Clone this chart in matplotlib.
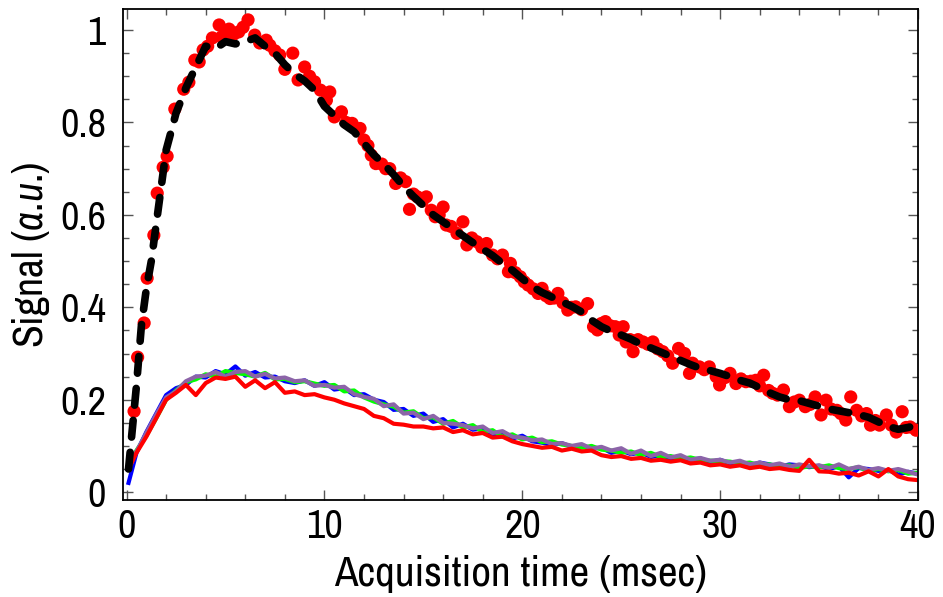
import matplotlib
matplotlib.use('Agg')
import matplotlib.pyplot as plt
from matplotlib.ticker import MultipleLocator, FuncFormatter

plt.rcParams['font.family'] = ['Archivo Narrow', 'Liberation Sans', 'DejaVu Sans']
plt.rcParams['mathtext.fontset'] = 'custom'
plt.rcParams['mathtext.rm'] = 'Archivo Narrow'
plt.rcParams['mathtext.it'] = 'Archivo Narrow:italic'

# measured points (red dots)
t_dots = [0.38, 0.56, 0.89, 1.04, 1.38, 1.55, 1.85, 2.05, 2.44, 2.89, 3.15, 3.45, 3.67, 3.87, 4.1,
          4.34, 4.68, 4.8, 5.0, 5.18, 5.42, 5.67, 5.89, 6.14, 6.48, 6.73, 7.06, 7.24, 7.5, 7.74,
          8.0, 8.4, 8.67, 9.0, 9.25, 9.5, 9.8, 10.1, 10.27, 10.5, 10.86, 11.1, 11.4, 11.8, 12.0,
          12.2, 12.37, 12.6, 12.9, 13.1, 13.3, 13.6, 13.85, 14.1, 14.3, 14.5, 14.7, 14.95, 15.15, 15.4,
          15.6, 15.8, 16.0, 16.16, 16.4, 16.7, 17.0, 17.2, 17.45, 17.7, 17.95, 18.2, 18.5, 18.75, 19.0,
          19.3, 19.4, 19.65, 19.9, 20.1, 20.3, 20.55, 20.8, 21.0, 21.2, 21.4, 21.6, 21.8, 22.05, 22.3,
          22.5, 22.7, 23.0, 23.3, 23.6, 23.8, 24.0, 24.2, 24.45, 24.7, 24.9, 25.1, 25.25, 25.45, 25.6,
          25.85, 26.1, 26.35, 26.6, 26.85, 27.1, 27.35, 27.6, 27.9, 28.2, 28.45, 28.6, 28.95, 29.2, 29.45,
          29.8, 29.97, 30.25, 30.5, 30.8, 31.05, 31.3, 31.55, 31.8, 32.0, 32.2, 32.45, 32.65, 32.9, 33.2,
          33.5, 33.75, 34.0, 34.3, 34.55, 34.8, 35.1, 35.35, 35.6, 35.9, 36.1, 36.35, 36.6, 36.9, 37.15,
          37.4, 37.6, 37.85, 38.05, 38.4, 38.65, 38.9, 39.2, 39.4, 39.6, 39.9]
y_dots = [0.175, 0.292, 0.366, 0.463, 0.556, 0.647, 0.703, 0.727, 0.829, 0.872, 0.887, 0.935, 0.931, 0.957, 0.965,
          0.983, 1.011, 0.985, 0.99, 1.002, 0.991, 0.996, 1.006, 1.022, 0.989, 0.972, 0.978, 0.967, 0.955, 0.946,
          0.915, 0.95, 0.892, 0.92, 0.9, 0.888, 0.87, 0.848, 0.866, 0.812, 0.823, 0.8, 0.798, 0.787, 0.762,
          0.75, 0.729, 0.711, 0.71, 0.7, 0.7, 0.668, 0.68, 0.672, 0.612, 0.645, 0.639, 0.63, 0.639, 0.61,
          0.596, 0.6, 0.617, 0.578, 0.575, 0.56, 0.585, 0.535, 0.55, 0.542, 0.53, 0.538, 0.513, 0.505, 0.513,
          0.477, 0.495, 0.475, 0.466, 0.455, 0.448, 0.44, 0.43, 0.441, 0.425, 0.419, 0.42, 0.43, 0.41, 0.394,
          0.4, 0.401, 0.395, 0.408, 0.358, 0.351, 0.365, 0.369, 0.36, 0.358, 0.34, 0.358, 0.325, 0.33, 0.304,
          0.33, 0.325, 0.32, 0.325, 0.31, 0.304, 0.295, 0.279, 0.311, 0.3, 0.257, 0.279, 0.271, 0.265, 0.271,
          0.25, 0.232, 0.248, 0.257, 0.235, 0.245, 0.239, 0.24, 0.242, 0.23, 0.253, 0.22, 0.214, 0.21, 0.221,
          0.185, 0.195, 0.199, 0.185, 0.19, 0.206, 0.167, 0.199, 0.18, 0.177, 0.17, 0.156, 0.206, 0.177, 0.165,
          0.17, 0.145, 0.155, 0.145, 0.167, 0.145, 0.13, 0.174, 0.14, 0.141, 0.134]

# fitted curve (black dashed)
t_fit = [0.1, 0.3, 0.5, 0.75, 1.0, 1.25, 1.5, 1.75, 2.0, 2.5, 3.0, 3.5, 4.0, 4.5, 5.0, 5.5, 6.0, 6.5,
         7.0, 7.5, 8.0, 8.5, 9.0, 9.5, 10.0, 10.5, 11.0, 11.5, 12.0, 12.5, 13.0, 13.5, 14.0, 14.5, 15.0,
         15.5, 16.0, 16.5, 17.0, 17.5, 18.0, 18.5, 19.0, 19.5, 20.0, 20.5, 21.0, 21.5, 22.0, 22.5, 23.0,
         23.5, 24.0, 24.5, 25.0, 25.5, 26.0, 26.5, 27.0, 27.5, 28.0, 28.5, 29.0, 29.5, 30.0, 30.5, 31.0,
         31.5, 32.0, 32.5, 33.0, 33.5, 34.0, 34.5, 35.0, 35.5, 36.0, 36.5, 37.0, 37.5, 38.0, 38.5, 39.0,
         39.5, 40.0]
y_fit = [0.05, 0.14, 0.23, 0.36, 0.44, 0.5, 0.58, 0.66, 0.74, 0.82, 0.875, 0.92, 0.965, 0.96, 0.975,
         0.97, 0.975, 0.983, 0.965, 0.95, 0.925, 0.905, 0.89, 0.87, 0.835, 0.815, 0.795, 0.78, 0.755, 0.73,
         0.71, 0.687, 0.662, 0.64, 0.62, 0.6, 0.585, 0.57, 0.555, 0.54, 0.526, 0.512, 0.495, 0.48, 0.462,
         0.445, 0.432, 0.422, 0.412, 0.402, 0.39, 0.372, 0.358, 0.348, 0.34, 0.331, 0.32, 0.312, 0.303,
         0.294, 0.285, 0.276, 0.268, 0.263, 0.257, 0.25, 0.242, 0.236, 0.226, 0.215, 0.206, 0.2, 0.198,
         0.192, 0.186, 0.18, 0.176, 0.172, 0.168, 0.162, 0.152, 0.142, 0.136, 0.14, 0.146]

# low signal traces
t_low = [0.1, 0.5, 1.0, 1.5, 2.0, 2.5, 3.0, 3.5, 4.0, 4.5, 5.0, 5.5, 6.0, 6.5, 7.0, 7.5, 8.0, 8.5, 9.0,
         9.5, 10.0, 10.5, 11.0, 11.5, 12.0, 12.5, 13.0, 13.5, 14.0, 14.5, 15.0, 15.5, 16.0, 16.5, 17.0,
         17.5, 18.0, 18.5, 19.0, 19.5, 20.0, 20.5, 21.0, 21.5, 22.0, 22.5, 23.0, 23.5, 24.0, 24.5, 25.0,
         25.5, 26.0, 26.5, 27.0, 27.5, 28.0, 28.5, 29.0, 29.5, 30.0, 30.5, 31.0, 31.5, 32.0, 32.5, 33.0,
         33.5, 34.0, 34.5, 35.0, 35.5, 36.0, 36.5, 37.0, 37.5, 38.0, 38.5, 39.0, 39.5, 40.0]
y_blue = [0.02, 0.085, 0.13, 0.17, 0.21, 0.225, 0.232, 0.25, 0.248, 0.262,
          0.255, 0.272, 0.252, 0.26, 0.248, 0.25, 0.24, 0.236, 0.242, 0.23,
          0.238, 0.222, 0.225, 0.21, 0.212, 0.2, 0.195, 0.178, 0.18, 0.165,
          0.17, 0.152, 0.158, 0.14, 0.148, 0.135, 0.138, 0.124, 0.13, 0.116,
          0.122, 0.11, 0.107, 0.102, 0.106, 0.098, 0.1, 0.094, 0.096, 0.085,
          0.09, 0.082, 0.086, 0.076, 0.08, 0.072, 0.075, 0.07, 0.073, 0.065,
          0.07, 0.062, 0.066, 0.058, 0.064, 0.06, 0.055, 0.06, 0.058, 0.054,
          0.057, 0.05, 0.056, 0.032, 0.052, 0.05, 0.046, 0.048, 0.038, 0.044,
          0.04]
y_green = [0.05, 0.09, 0.122, 0.16, 0.2, 0.22, 0.238, 0.244, 0.255, 0.25,
           0.262, 0.258, 0.255, 0.25, 0.258, 0.244, 0.245, 0.238, 0.24, 0.235,
           0.23, 0.232, 0.218, 0.22, 0.205, 0.196, 0.19, 0.185, 0.172, 0.175,
           0.16, 0.162, 0.148, 0.154, 0.14, 0.145, 0.13, 0.134, 0.12, 0.125,
           0.114, 0.118, 0.108, 0.11, 0.103, 0.1, 0.096, 0.1, 0.092, 0.09,
           0.085, 0.088, 0.08, 0.085, 0.076, 0.078, 0.072, 0.075, 0.07, 0.068,
           0.067, 0.066, 0.062, 0.064, 0.058, 0.06, 0.056, 0.058, 0.052, 0.056,
           0.054, 0.058, 0.052, 0.05, 0.054, 0.046, 0.05, 0.045, 0.048, 0.04,
           0.042]
y_purple = [0.05, 0.088, 0.128, 0.168, 0.205, 0.218, 0.24, 0.25, 0.252, 0.26,
            0.25, 0.26, 0.262, 0.25, 0.256, 0.246, 0.248, 0.24, 0.242, 0.23,
            0.232, 0.226, 0.228, 0.212, 0.206, 0.202, 0.186, 0.19, 0.17, 0.172,
            0.158, 0.165, 0.15, 0.148, 0.145, 0.138, 0.142, 0.128, 0.132, 0.12,
            0.118, 0.112, 0.114, 0.104, 0.106, 0.1, 0.104, 0.094, 0.098, 0.09,
            0.095, 0.083, 0.09, 0.078, 0.085, 0.075, 0.08, 0.07, 0.074, 0.068,
            0.07, 0.064, 0.068, 0.06, 0.064, 0.058, 0.062, 0.055, 0.06, 0.056,
            0.058, 0.052, 0.06, 0.05, 0.055, 0.048, 0.052, 0.046, 0.05, 0.044,
            0.038]
y_red = [0.05, 0.085, 0.12, 0.16, 0.2, 0.215, 0.232, 0.21, 0.236, 0.248,
         0.245, 0.25, 0.228, 0.242, 0.225, 0.238, 0.215, 0.218, 0.21, 0.212,
         0.205, 0.2, 0.192, 0.186, 0.18, 0.165, 0.16, 0.148, 0.146, 0.142,
         0.142, 0.138, 0.14, 0.13, 0.134, 0.125, 0.128, 0.118, 0.12, 0.11,
         0.104, 0.1, 0.096, 0.098, 0.09, 0.094, 0.088, 0.09, 0.08, 0.076,
         0.078, 0.072, 0.074, 0.068, 0.07, 0.066, 0.069, 0.062, 0.064, 0.058,
         0.06, 0.055, 0.058, 0.052, 0.055, 0.05, 0.052, 0.048, 0.046, 0.07,
         0.045, 0.044, 0.04, 0.042, 0.036, 0.045, 0.034, 0.05, 0.034, 0.028,
         0.026]

fig = plt.figure(figsize=(9.43, 5.97), dpi=100)
ax = fig.add_axes([0.130, 0.1625, 0.8435, 0.822])

lw = 3.0
ax.plot(t_low, y_blue, color='#0000ff', lw=lw, zorder=2)
ax.plot(t_low, y_green, color='#00ff00', lw=lw, zorder=2)
ax.plot(t_low, y_purple, color='#8c64a8', lw=lw, zorder=2)
ax.plot(t_low, y_red, color='#ff0000', lw=lw, zorder=2)

ax.scatter(t_dots, y_dots, s=90, color='#ff0000', edgecolors='none', zorder=3)
ax.plot(t_fit, y_fit, color='black', lw=5.5, dashes=(2.2, 2.0), dash_capstyle='round', zorder=4)

ax.set_xlim(-0.2, 40)
ax.set_ylim(-0.017, 1.045)

ax.xaxis.set_major_locator(MultipleLocator(10))
ax.xaxis.set_minor_locator(MultipleLocator(2))
ax.yaxis.set_major_locator(MultipleLocator(0.2))
ax.yaxis.set_minor_locator(MultipleLocator(0.05))
ax.yaxis.set_major_formatter(FuncFormatter(lambda v, p: '%g' % round(v, 2)))

ax.tick_params(which='both', direction='in', top=True, right=True, labelsize=29, width=1.0, color='#555555')
ax.tick_params(which='major', length=7)
ax.tick_params(which='minor', length=4)
ax.tick_params(axis='y', which='major', pad=12)
ax.tick_params(axis='x', which='major', pad=6)
for s in ax.spines.values():
    s.set_linewidth(1.3)

ax.set_xlabel('Acquisition time (msec)', fontsize=31, labelpad=7)
ax.set_ylabel(r'Signal ($\mathit{a}$.$\mathit{u}$.)', fontsize=30, labelpad=6)

fig.savefig('out.png', dpi=100)
